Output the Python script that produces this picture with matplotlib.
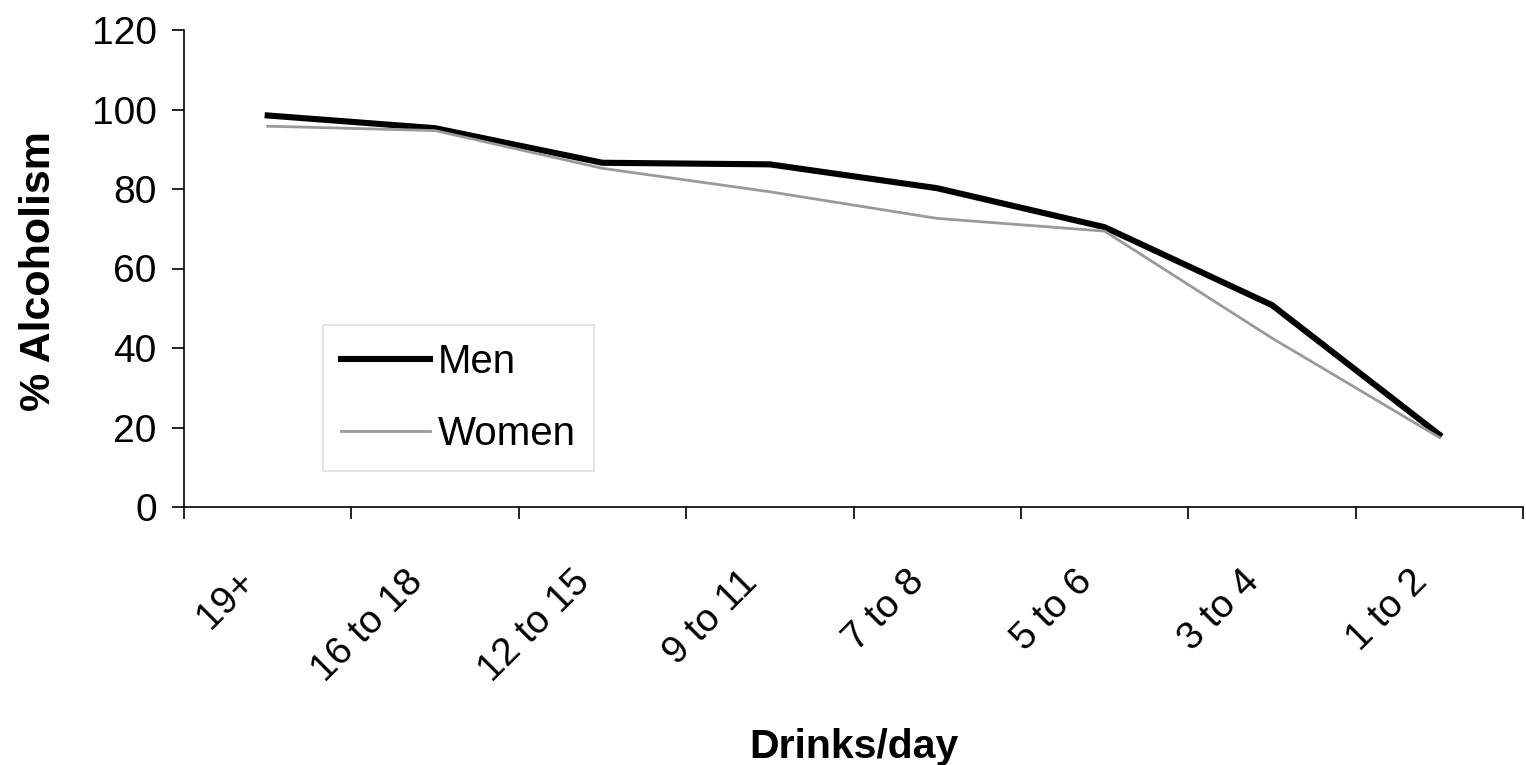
import matplotlib
matplotlib.use("Agg")
import matplotlib.pyplot as plt
import matplotlib.transforms as mtransforms
import numpy as np

categories = ["19+", "16 to 18", "12 to 15", "9 to 11", "7 to 8", "5 to 6", "3 to 4", "1 to 2"]
men = [98.5, 95.3, 86.6, 86.2, 80.2, 70.4, 50.8, 18.2]
women = [95.8, 94.7, 85.2, 79.3, 72.6, 69.4, 42.5, 17.5]
yticks = [0, 20, 40, 60, 80, 100, 120]

plt.rcParams['font.family'] = ['Liberation Sans', 'DejaVu Sans']

fig = plt.figure(figsize=(15.26, 7.65), dpi=100)
ax = fig.add_axes([184/1526, 1-507/765, (1523-184)/1526, (507-30)/765])

x = np.arange(len(categories))
ax.plot(x, men, color='black', lw=4.4, label='Men')
ax.plot(x, women, color='#9a9a9a', lw=2.0, label='Women')

ax.set_xlim(-0.5, len(categories) - 0.5)
ax.set_ylim(0, 120)
ax.set_yticks(yticks)
ax.set_yticklabels([str(v) for v in yticks], fontsize=28)

ax.set_xticks(np.arange(len(categories) + 1) - 0.5)
ax.set_xticklabels([])
ax.set_xticks(x, minor=True)
ax.set_xticklabels(categories, minor=True, rotation=45, fontsize=28,
                   ha='right', va='center', rotation_mode='anchor')
ax.tick_params(axis='x', which='minor', length=0, pad=50)
ax.tick_params(axis='x', which='major', length=8.6, width=1.2, direction='out')
ax.tick_params(axis='y', length=8.6, width=1.2, direction='out', pad=11)

offset = mtransforms.ScaledTranslation(-0.18, 0, fig.dpi_scale_trans)
for lab in ax.get_xticklabels(minor=True):
    lab.set_transform(lab.get_transform() + offset)

for s in ['top', 'right']:
    ax.spines[s].set_visible(False)
for s in ['left', 'bottom']:
    ax.spines[s].set_linewidth(1.2)

ax.set_xlabel('Drinks/day', fontsize=29.5, fontweight='bold')
ax.xaxis.set_label_coords(0.5, (507-728)/477)
ax.set_ylabel('% Alcoholism', fontsize=31, fontweight='bold')
ax.yaxis.set_label_coords((59-184)/1339, (507-271)/477)

leg = ax.legend(loc='upper left', bbox_to_anchor=((323-184)/1339, (507-325)/477),
                fontsize=29, frameon=True, fancybox=False, handlelength=2.2,
                handletextpad=0.2, borderpad=0.45, labelspacing=0.85, borderaxespad=0)
leg.get_frame().set_edgecolor('#d9d9d9')
leg.get_frame().set_linewidth(1.2)

fig.savefig('out.png', dpi=100)
